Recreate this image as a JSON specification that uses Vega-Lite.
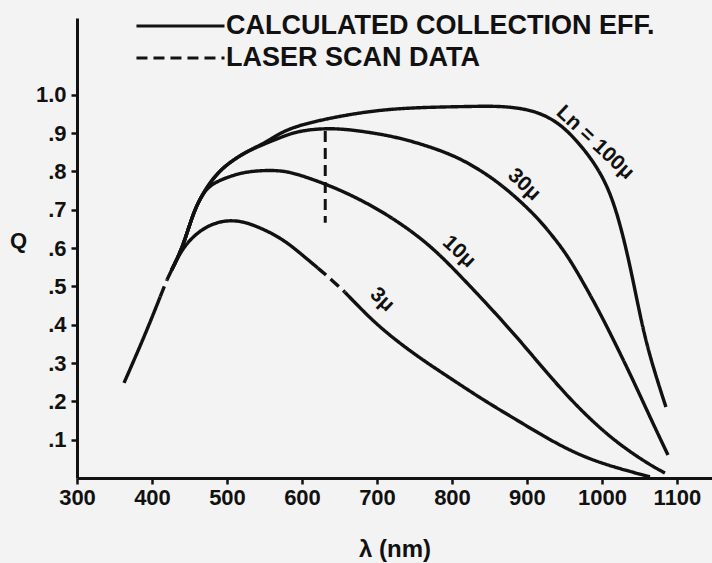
{
  "$schema": "https://vega.github.io/schema/vega-lite/v6.json",
  "width": 635,
  "height": 460,
  "autosize": "none",
  "padding": {"left": 77, "top": 18, "right": 0, "bottom": 85},
  "background": "#f3f3f3",
  "config": {
    "view": {"stroke": null},
    "font": "Liberation Sans"
  },
  "datasets": {
    "curves": [
      {"seg": "3a", "style": "calc", "lambda": 362.7, "Q": 0.248},
      {"seg": "3a", "style": "calc", "lambda": 390.7, "Q": 0.373},
      {"seg": "3a", "style": "calc", "lambda": 411, "Q": 0.473},
      {"seg": "3b", "style": "scan", "lambda": 411, "Q": 0.473},
      {"seg": "3b", "style": "scan", "lambda": 420, "Q": 0.517},
      {"seg": "3c", "style": "calc", "lambda": 420, "Q": 0.517},
      {"seg": "3c", "style": "calc", "lambda": 426.3, "Q": 0.543},
      {"seg": "3c", "style": "calc", "lambda": 441.3, "Q": 0.603},
      {"seg": "3c", "style": "calc", "lambda": 464, "Q": 0.647},
      {"seg": "3c", "style": "calc", "lambda": 486.7, "Q": 0.668},
      {"seg": "3c", "style": "calc", "lambda": 508, "Q": 0.673},
      {"seg": "3c", "style": "calc", "lambda": 530.7, "Q": 0.665},
      {"seg": "3c", "style": "calc", "lambda": 570.7, "Q": 0.629},
      {"seg": "3c", "style": "calc", "lambda": 597.3, "Q": 0.587},
      {"seg": "3c", "style": "calc", "lambda": 621, "Q": 0.548},
      {"seg": "3d", "style": "scan", "lambda": 621, "Q": 0.548},
      {"seg": "3d", "style": "scan", "lambda": 641.3, "Q": 0.514},
      {"seg": "3d", "style": "scan", "lambda": 657, "Q": 0.485},
      {"seg": "3e", "style": "calc", "lambda": 657, "Q": 0.485},
      {"seg": "3e", "style": "calc", "lambda": 673.3, "Q": 0.452},
      {"seg": "3e", "style": "calc", "lambda": 704, "Q": 0.392},
      {"seg": "3e", "style": "calc", "lambda": 750, "Q": 0.322},
      {"seg": "3e", "style": "calc", "lambda": 797.3, "Q": 0.261},
      {"seg": "3e", "style": "calc", "lambda": 841.3, "Q": 0.204},
      {"seg": "3e", "style": "calc", "lambda": 886.7, "Q": 0.151},
      {"seg": "3e", "style": "calc", "lambda": 930.7, "Q": 0.099},
      {"seg": "3e", "style": "calc", "lambda": 974.7, "Q": 0.055},
      {"seg": "3e", "style": "calc", "lambda": 1020, "Q": 0.026},
      {"seg": "3e", "style": "calc", "lambda": 1064, "Q": 0.003},
      {"seg": "10", "style": "calc", "lambda": 426.3, "Q": 0.543},
      {"seg": "10", "style": "calc", "lambda": 441.3, "Q": 0.603},
      {"seg": "10", "style": "calc", "lambda": 454.7, "Q": 0.691},
      {"seg": "10", "style": "calc", "lambda": 468, "Q": 0.744},
      {"seg": "10", "style": "calc", "lambda": 481.3, "Q": 0.77},
      {"seg": "10", "style": "calc", "lambda": 508, "Q": 0.79},
      {"seg": "10", "style": "calc", "lambda": 530.7, "Q": 0.801},
      {"seg": "10", "style": "calc", "lambda": 570.7, "Q": 0.804},
      {"seg": "10", "style": "calc", "lambda": 597.3, "Q": 0.791},
      {"seg": "10", "style": "calc", "lambda": 641.3, "Q": 0.76},
      {"seg": "10", "style": "calc", "lambda": 686.7, "Q": 0.718},
      {"seg": "10", "style": "calc", "lambda": 730.7, "Q": 0.666},
      {"seg": "10", "style": "calc", "lambda": 774.7, "Q": 0.601},
      {"seg": "10", "style": "calc", "lambda": 814.7, "Q": 0.52},
      {"seg": "10", "style": "calc", "lambda": 841.3, "Q": 0.465},
      {"seg": "10", "style": "calc", "lambda": 886.7, "Q": 0.368},
      {"seg": "10", "style": "calc", "lambda": 930.7, "Q": 0.264},
      {"seg": "10", "style": "calc", "lambda": 974.7, "Q": 0.17},
      {"seg": "10", "style": "calc", "lambda": 1020, "Q": 0.091},
      {"seg": "10", "style": "calc", "lambda": 1064, "Q": 0.034},
      {"seg": "10", "style": "calc", "lambda": 1084, "Q": 0.013},
      {"seg": "30", "style": "calc", "lambda": 426.3, "Q": 0.543},
      {"seg": "30", "style": "calc", "lambda": 441.3, "Q": 0.603},
      {"seg": "30", "style": "calc", "lambda": 454.7, "Q": 0.691},
      {"seg": "30", "style": "calc", "lambda": 468, "Q": 0.744},
      {"seg": "30", "style": "calc", "lambda": 486.7, "Q": 0.796},
      {"seg": "30", "style": "calc", "lambda": 508, "Q": 0.83},
      {"seg": "30", "style": "calc", "lambda": 530.7, "Q": 0.856},
      {"seg": "30", "style": "calc", "lambda": 553.3, "Q": 0.874},
      {"seg": "30", "style": "calc", "lambda": 570.7, "Q": 0.888},
      {"seg": "30", "style": "calc", "lambda": 597.3, "Q": 0.907},
      {"seg": "30", "style": "calc", "lambda": 641.3, "Q": 0.914},
      {"seg": "30", "style": "calc", "lambda": 686.7, "Q": 0.903},
      {"seg": "30", "style": "calc", "lambda": 730.7, "Q": 0.888},
      {"seg": "30", "style": "calc", "lambda": 784, "Q": 0.856},
      {"seg": "30", "style": "calc", "lambda": 820, "Q": 0.825},
      {"seg": "30", "style": "calc", "lambda": 864, "Q": 0.77},
      {"seg": "30", "style": "calc", "lambda": 908, "Q": 0.692},
      {"seg": "30", "style": "calc", "lambda": 930.7, "Q": 0.64},
      {"seg": "30", "style": "calc", "lambda": 953.3, "Q": 0.583},
      {"seg": "30", "style": "calc", "lambda": 975, "Q": 0.51},
      {"seg": "30", "style": "calc", "lambda": 997.3, "Q": 0.431},
      {"seg": "30", "style": "calc", "lambda": 1020, "Q": 0.342},
      {"seg": "30", "style": "calc", "lambda": 1041.3, "Q": 0.256},
      {"seg": "30", "style": "calc", "lambda": 1064, "Q": 0.159},
      {"seg": "30", "style": "calc", "lambda": 1088, "Q": 0.06},
      {"seg": "100", "style": "calc", "lambda": 426.3, "Q": 0.543},
      {"seg": "100", "style": "calc", "lambda": 441.3, "Q": 0.603},
      {"seg": "100", "style": "calc", "lambda": 454.7, "Q": 0.691},
      {"seg": "100", "style": "calc", "lambda": 468, "Q": 0.744},
      {"seg": "100", "style": "calc", "lambda": 486.7, "Q": 0.796},
      {"seg": "100", "style": "calc", "lambda": 508, "Q": 0.83},
      {"seg": "100", "style": "calc", "lambda": 530.7, "Q": 0.856},
      {"seg": "100", "style": "calc", "lambda": 553.3, "Q": 0.877},
      {"seg": "100", "style": "calc", "lambda": 570.7, "Q": 0.9},
      {"seg": "100", "style": "calc", "lambda": 597.3, "Q": 0.922},
      {"seg": "100", "style": "calc", "lambda": 664, "Q": 0.95},
      {"seg": "100", "style": "calc", "lambda": 730.7, "Q": 0.966},
      {"seg": "100", "style": "calc", "lambda": 820, "Q": 0.969},
      {"seg": "100", "style": "calc", "lambda": 864, "Q": 0.971},
      {"seg": "100", "style": "calc", "lambda": 908, "Q": 0.961},
      {"seg": "100", "style": "calc", "lambda": 944, "Q": 0.927},
      {"seg": "100", "style": "calc", "lambda": 974.7, "Q": 0.862},
      {"seg": "100", "style": "calc", "lambda": 997.3, "Q": 0.8},
      {"seg": "100", "style": "calc", "lambda": 1014, "Q": 0.73},
      {"seg": "100", "style": "calc", "lambda": 1028, "Q": 0.634},
      {"seg": "100", "style": "calc", "lambda": 1040, "Q": 0.53},
      {"seg": "100", "style": "calc", "lambda": 1054.7, "Q": 0.386},
      {"seg": "100", "style": "calc", "lambda": 1068, "Q": 0.29},
      {"seg": "100", "style": "calc", "lambda": 1085.3, "Q": 0.185}
    ],
    "scan": [
      {"seg": "laser", "style": "scan", "lambda": 631, "Q": 0.905},
      {"seg": "laser", "style": "scan", "lambda": 631, "Q": 0.666}
    ],
    "labels": [
      {"label": "Ln = 100μ", "lambda": 990.7, "Q": 0.875},
      {"label": "30μ", "lambda": 896, "Q": 0.765},
      {"label": "10μ", "lambda": 809.3, "Q": 0.59},
      {"label": "3μ", "lambda": 706.7, "Q": 0.465}
    ]
  },
  "encoding": {
    "x": {
      "field": "lambda",
      "type": "quantitative",
      "scale": {"domain": [300, 1146.7], "nice": false, "zero": false},
      "axis": {
        "title": "λ (nm)",
        "values": [300, 400, 500, 600, 700, 800, 900, 1000, 1100],
        "format": "d",
        "grid": false,
        "domainColor": "#111",
        "domainWidth": 3,
        "tickColor": "#111",
        "tickWidth": 2.5,
        "tickSize": 6,
        "labelFontSize": 22,
        "labelFontWeight": "bold",
        "labelColor": "#111",
        "labelPadding": 3,
        "labelFlush": false,
        "titleFontSize": 24,
        "titleFontWeight": "bold",
        "titleColor": "#111",
        "titleBaseline": "middle",
        "titleY": 71
      }
    },
    "y": {
      "field": "Q",
      "type": "quantitative",
      "scale": {"domain": [0, 1.2], "nice": false},
      "axis": {
        "title": "Q",
        "values": [0.1, 0.2, 0.3, 0.4, 0.5, 0.6, 0.7, 0.8, 0.9, 1.0],
        "labelExpr": "replace(format(datum.value, '.1f'), '0.', '.')",
        "grid": false,
        "domainColor": "#111",
        "domainWidth": 3,
        "tickColor": "#111",
        "tickWidth": 2.5,
        "tickSize": 6,
        "labelFontSize": 22,
        "labelFontWeight": "bold",
        "labelColor": "#111",
        "labelPadding": 5,
        "labelFlush": false,
        "titleFontSize": 22,
        "titleFontWeight": "bold",
        "titleColor": "#111",
        "titleAngle": 0,
        "titleAlign": "center",
        "titleBaseline": "middle",
        "titleX": -59,
        "titleY": 222
      }
    }
  },
  "layer": [
    {
      "data": {"name": "curves"},
      "mark": {"type": "line", "interpolate": "basis", "strokeWidth": 3.4, "color": "#111"},
      "encoding": {
        "detail": {"field": "seg", "type": "nominal"},
        "strokeDash": {
          "field": "style",
          "type": "nominal",
          "scale": {"domain": ["calc", "scan"], "range": [[1, 0], [11, 6]]},
          "legend": {
            "title": null,
            "orient": "none",
            "legendX": 111,
            "legendY": -11,
            "padding": 0,
            "symbolType": "M-4.03,0H1",
            "symbolSize": 1225,
            "symbolStrokeWidth": 3,
            "symbolStrokeColor": "#111",
            "rowPadding": 0,
            "labelOffset": 0,
            "labelFontSize": 27,
            "labelFontWeight": "bold",
            "labelColor": "#111",
            "labelLimit": 600,
            "labelExpr": "datum.label == 'calc' ? 'CALCULATED COLLECTION EFF.' : 'LASER SCAN DATA'"
          }
        }
      }
    },
    {
      "data": {"name": "scan"},
      "mark": {"type": "line", "strokeWidth": 3, "color": "#111"},
      "encoding": {
        "detail": {"field": "seg", "type": "nominal"},
        "strokeDash": {"field": "style", "type": "nominal"}
      }
    },
    {
      "data": {"name": "labels"},
      "mark": {"type": "text", "angle": 43, "fontSize": 21, "fontWeight": "bold", "color": "#111", "align": "center", "baseline": "middle"},
      "encoding": {
        "text": {"field": "label", "type": "nominal"}
      }
    }
  ]
}
